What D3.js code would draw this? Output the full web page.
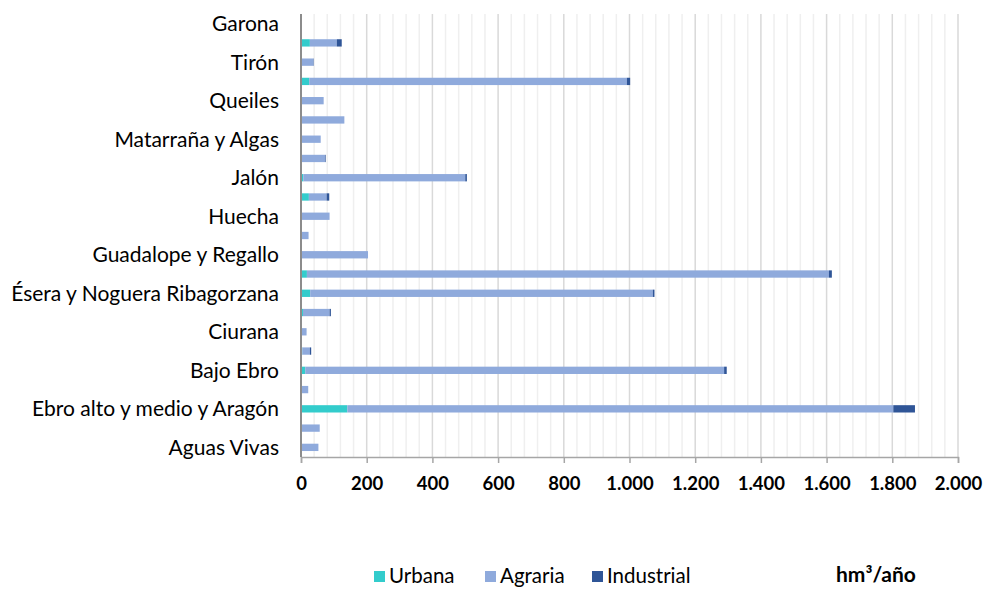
<!DOCTYPE html>
<html>
<head>
<meta charset="utf-8">
<script src="https://cdn.jsdelivr.net/npm/d3@7"></script>
<style>
  html, body { margin: 0; padding: 0; background: #fff; }
  svg { display: block; }
  text { font-family: Lato, "Open Sans", sans-serif; fill: #000; }
</style>
</head>
<body>
<svg id="chart" width="984" height="589"></svg>
<script>
// Demand by sub-basin (hm³/año), listed bottom to top
const categories = [
  "Aguas Vivas", "Alhama", "Ebro alto y medio y Aragón", "Arba", "Bajo Ebro",
  "Bayas", "Ciurana", "Cidacos", "Ésera y Noguera Ribagorzana", "Cinca",
  "Guadalope y Regallo", "Huerva", "Huecha", "Iregua", "Jalón", "Jiloca",
  "Matarraña y Algas", "Martín", "Queiles", "Segre", "Tirón", "Zadorra", "Garona"
];
const urbana     = [0, 0, 141, 0, 13, 4, 0, 6, 28, 18, 2, 0, 0, 24, 7, 0, 0, 0, 1, 25, 0, 27, 0];
const agraria    = [53, 57, 1662, 22, 1275, 23, 17, 81, 1043, 1589, 202, 23, 87, 54, 493, 73, 60, 132, 68, 967, 38, 82, 2];
const industrial = [0, 0, 66, 0, 8, 4, 0, 4, 5, 9, 0, 0, 0, 8, 5, 2, 0, 0, 0, 10, 1, 15, 0];

const seriesNames = ["Urbana", "Agraria", "Industrial"];
const seriesColors = ["#33CCCC", "#8FAADC", "#2F5597"];
const xTicks = [0, 200, 400, 600, 800, 1000, 1200, 1400, 1600, 1800, 2000];
const unitLabel = "hm³/año";

const rows = categories.map((c, i) => ({
  name: c, Urbana: urbana[i], Agraria: agraria[i], Industrial: industrial[i]
}));

const svg = d3.select("#chart");
const plotL = 301, plotR = 958, plotT = 14, plotB = 457;

const x = d3.scaleLinear().domain([0, 2000]).range([plotL, plotR]);
const y = d3.scaleBand().domain(categories.slice().reverse()).range([plotT, plotB])
  .paddingInner(0.62).paddingOuter(0.31);

const fmt = d3.formatLocale({ decimal: ",", thousands: ".", grouping: [3], currency: ["", ""] }).format(",d");

// Minor gridlines every 40
svg.append("g").selectAll("line")
  .data(d3.range(40, 2001, 40).filter(v => v % 200 !== 0))
  .join("line")
  .attr("x1", d => x(d)).attr("x2", d => x(d))
  .attr("y1", plotT).attr("y2", plotB)
  .attr("stroke", "#efefef").attr("stroke-width", 1.5);

// Major gridlines
svg.append("g").selectAll("line")
  .data(xTicks.slice(1))
  .join("line")
  .attr("x1", d => x(d)).attr("x2", d => x(d))
  .attr("y1", plotT).attr("y2", plotB)
  .attr("stroke", "#d9d9d9").attr("stroke-width", 1.5);

// Stacked bars
const stack = d3.stack().keys(seriesNames)(rows);
svg.append("g").selectAll("g")
  .data(stack)
  .join("g")
  .attr("fill", (d, i) => seriesColors[i])
  .selectAll("rect")
  .data(d => d)
  .join("rect")
  .attr("x", d => x(d[0]))
  .attr("width", d => Math.max(0, x(d[1]) - x(d[0])))
  .attr("y", d => y(d.data.name))
  .attr("height", y.bandwidth());

// Bottom axis
const xAxis = svg.append("g")
  .attr("transform", `translate(0,${plotB})`)
  .call(d3.axisBottom(x).tickValues(xTicks).tickFormat(fmt).tickSize(6).tickPadding(14));
xAxis.select(".domain").attr("stroke", "#a6a6a6").attr("stroke-width", 1.5);
xAxis.selectAll(".tick line").attr("stroke", "#a6a6a6").attr("stroke-width", 1.5);
xAxis.selectAll(".tick text")
  .style("font-family", "Lato, sans-serif")
  .attr("font-size", 18.5).attr("font-weight", "bold").attr("fill", "#000");

// Left axis line and category labels (every other one)
svg.append("line")
  .attr("x1", plotL).attr("x2", plotL).attr("y1", plotT).attr("y2", plotB)
  .attr("stroke", "#8c8c8c").attr("stroke-width", 2);

svg.append("g").selectAll("text")
  .data(categories.filter((c, i) => i % 2 === 0))
  .join("text")
  .attr("x", 279)
  .attr("y", d => y(d) + y.bandwidth() / 2)
  .attr("dy", "0.35em")
  .attr("text-anchor", "end")
  .attr("font-size", 21)
  .text(d => d);

// Legend
const legendX = [374, 485, 592];
const lg = svg.append("g").selectAll("g")
  .data(seriesNames)
  .join("g")
  .attr("transform", (d, i) => `translate(${legendX[i]},576)`);
lg.append("rect").attr("x", 0).attr("y", -5).attr("width", 11).attr("height", 11)
  .attr("fill", (d, i) => seriesColors[i]);
lg.append("text").attr("x", 15).attr("y", 0).attr("dy", "0.36em")
  .attr("font-size", 20.5).text(d => d);

svg.append("text")
  .attr("x", 836).attr("y", 575).attr("dy", "0.35em")
  .attr("font-size", 21).attr("font-weight", "bold")
  .text(unitLabel);
</script>
</body>
</html>
